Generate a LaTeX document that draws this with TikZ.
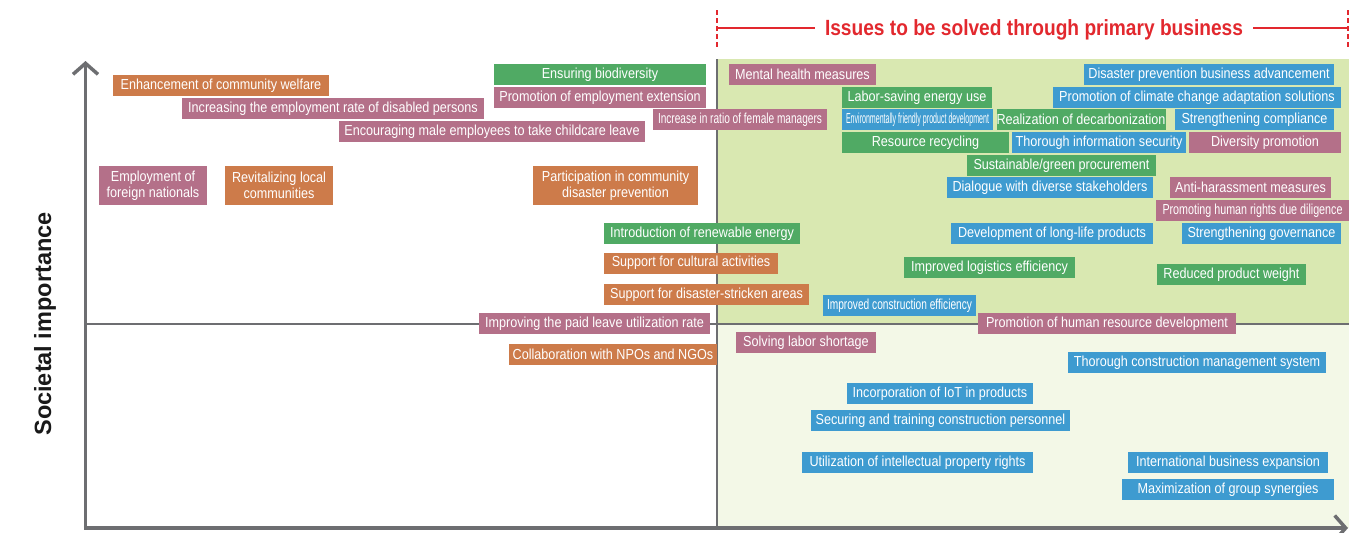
\documentclass[tikz,border=0pt]{standalone}
\usepackage{fontspec}
\usepackage{graphicx}
\usepackage{xcolor}
\usepackage{tikz}
\usetikzlibrary{arrows.meta}
\setmainfont[FakeStretch=0.87]{Liberation Sans}
\newfontfamily\labelfont{Liberation Sans}
\newcommand\squeezed[2]{\resizebox{#1}{\height}{#2}}

\definecolor{orangeissue}{RGB}{205,123,74}
\definecolor{pinkissue}{RGB}{180,112,137}
\definecolor{greenissue}{RGB}{80,170,100}
\definecolor{blueissue}{RGB}{62,155,208}
\definecolor{upperzone}{RGB}{217,232,177}
\definecolor{lowerzone}{RGB}{243,248,231}
\definecolor{axisgray}{RGB}{109,110,113}
\definecolor{headred}{RGB}{226,40,46}

\begin{document}
\begin{tikzpicture}[x=1pt,y=-1pt,
	issue/.style={inner sep=0pt, minimum height=21pt, text=white, font=\fontsize{14.5}{16}\selectfont, align=center},
	orangebox/.style={issue, fill=orangeissue},
	pinkbox/.style={issue, fill=pinkissue},
	greenbox/.style={issue, fill=greenissue},
	bluebox/.style={issue, fill=blueissue},
	axisline/.style={draw=axisgray, line width=3.5pt},
	midline/.style={draw=axisgray, line width=1.6pt},
	redline/.style={draw=headred, line width=1.3pt}]
	\useasboundingbox (0,0) rectangle (1366,533);
	% zones
	\fill[upperzone] (717,59) rectangle (1349,324);
	\fill[lowerzone] (717,324) rectangle (1349,528);
	\draw[midline] (86,324) -- (1349,324);
	\draw[midline] (717,59) -- (717,528);
	% axes
	\coordinate (ybase) at (85.5,529.75);
	\coordinate (ytop) at (85.5,61);
	\coordinate (xbase) at (83.75,528);
	\coordinate (xend) at (1348,528);
	\draw[axisline, -{Straight Barb[length=11pt, width=25pt]}] (ybase) -- (ytop);
	\draw[axisline, -{Straight Barb[length=11pt, width=25pt]}] (xbase) -- (xend);
	\node[rotate=90, text=black!90, font=\labelfont\bfseries\fontsize{23.5}{26}\selectfont] (ylabel) at (45,324) {Societal importance};
	% heading
	\node[text=headred, font=\bfseries\fontsize{22}{26}\selectfont, inner xsep=10pt] (heading) at (1034,29.5) {Issues to be solved through primary business};
	\coordinate (hleft) at (717,28);
	\coordinate (hright) at (1348,28);
	\draw[redline] (hleft) -- (hleft -| heading.west);
	\draw[redline] (hright -| heading.east) -- (hright);
	\draw[redline, dash pattern=on 5pt off 3pt] (717,10) -- (717,48);
	\draw[redline, dash pattern=on 5pt off 3pt] (1348,10) -- (1348,48);
	% left half
	\node[orangebox, minimum width=216pt] (welfare) at (221,85.5) {Enhancement of community welfare};
	\node[pinkbox, minimum width=302pt] (disabled) at (333,108.5) {Increasing the employment rate of disabled persons};
	\node[pinkbox, minimum width=306pt] (childcare) at (492,131.5) {Encouraging male employees to take childcare leave};
	\node[pinkbox, minimum width=108pt, minimum height=39pt] (foreign) at (153,185.5) {Employment of\\foreign nationals};
	\node[orangebox, minimum width=108pt, minimum height=39pt] (local) at (279,185.5) {Revitalizing local\\communities};
	\node[greenbox, minimum width=212pt] (biodiv) at (600,74.5) {Ensuring biodiversity};
	\node[pinkbox, minimum width=212pt] (extension) at (600,97.5) {Promotion of employment extension};
	\node[pinkbox, minimum width=174pt] (female) at (740,119.5) {\squeezed{164pt}{Increase in ratio of female managers}};
	\node[orangebox, minimum width=165pt, minimum height=39pt] (commdisaster) at (615.5,185.5) {Participation in community\\disaster prevention};
	\node[greenbox, minimum width=196pt] (renewable) at (702,233.5) {Introduction of renewable energy};
	\node[orangebox, minimum width=174pt] (cultural) at (691,263) {Support for cultural activities};
	\node[orangebox, minimum width=205pt] (stricken) at (706.5,294.5) {Support for disaster-stricken areas};
	\node[pinkbox, minimum width=231pt] (paidleave) at (594.5,323.5) {Improving the paid leave utilization rate};
	\node[orangebox, minimum width=208pt] (npo) at (613,354.5) {Collaboration with NPOs and NGOs};
	% primary business, upper
	\node[pinkbox, minimum width=147pt] (mental) at (802.5,74.5) {Mental health measures};
	\node[greenbox, minimum width=150pt] (laborsaving) at (917,97.5) {Labor-saving energy use};
	\node[bluebox, minimum width=151pt] (ecoproduct) at (917.5,119.5) {\squeezed{143pt}{Environmentally friendly product development}};
	\node[greenbox, minimum width=167pt] (recycling) at (925.5,142.5) {Resource recycling};
	\node[bluebox, minimum width=250pt] (disasterbiz) at (1209,74.5) {Disaster prevention business advancement};
	\node[bluebox, minimum width=288pt] (climate) at (1197,97.5) {Promotion of climate change adaptation solutions};
	\node[greenbox, minimum width=168pt] (decarb) at (1081,119.5) {Realization of decarbonization};
	\node[bluebox, minimum width=159pt] (compliance) at (1254.5,119.5) {Strengthening compliance};
	\node[bluebox, minimum width=174pt] (infosec) at (1099,142.5) {Thorough information security};
	\node[pinkbox, minimum width=152pt] (diversity) at (1265,142.5) {Diversity promotion};
	\node[greenbox, minimum width=189pt] (procurement) at (1061.5,165.5) {Sustainable/green procurement};
	\node[bluebox, minimum width=206pt] (dialogue) at (1050,187.5) {Dialogue with diverse stakeholders};
	\node[pinkbox, minimum width=161pt] (harassment) at (1250.5,187.5) {Anti-harassment measures};
	\node[pinkbox, minimum width=193pt] (humanrights) at (1252.5,210.5) {\squeezed{180pt}{Promoting human rights due diligence}};
	\node[bluebox, minimum width=202pt] (longlife) at (1052,233.5) {Development of long-life products};
	\node[bluebox, minimum width=159pt] (governance) at (1261.5,233.5) {Strengthening governance};
	\node[greenbox, minimum width=171pt] (logistics) at (989.5,267.5) {Improved logistics efficiency};
	\node[greenbox, minimum width=149pt] (weight) at (1231.5,274.5) {Reduced product weight};
	\node[bluebox, minimum width=153pt] (construction) at (899.5,305.5) {\squeezed{145pt}{Improved construction efficiency}};
	\node[pinkbox, minimum width=258pt] (hrdev) at (1107,323.5) {Promotion of human resource development};
	% primary business, lower
	\node[pinkbox, minimum width=140pt] (laborshort) at (806,342.5) {Solving labor shortage};
	\node[bluebox, minimum width=258pt] (constmgmt) at (1197,362.5) {Thorough construction management system};
	\node[bluebox, minimum width=186pt] (iot) at (940,393.5) {Incorporation of IoT in products};
	\node[bluebox, minimum width=259pt] (personnel) at (940.5,420.5) {Securing and training construction personnel};
	\node[bluebox, minimum width=231pt] (ipr) at (917.5,462.5) {Utilization of intellectual property rights};
	\node[bluebox, minimum width=200pt] (intl) at (1228,462.5) {International business expansion};
	\node[bluebox, minimum width=212pt] (synergy) at (1228,489.5) {Maximization of group synergies};
\end{tikzpicture}
\end{document}
